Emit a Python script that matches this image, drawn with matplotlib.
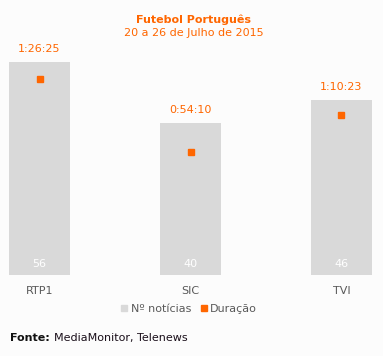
import matplotlib
matplotlib.use("Agg")
import matplotlib.pyplot as plt
from matplotlib.lines import Line2D

# data
canais = ["RTP1", "SIC", "TVI"]
noticias = [56, 40, 46]
duracao = ["1:26:25", "0:54:10", "1:10:23"]

def to_sec(s):
    h, m, x = s.split(":")
    return int(h) * 3600 + int(m) * 60 + int(x)

dur_sec = [to_sec(d) for d in duracao]

orange = "#FF6600"
grey = "#D9D9D9"
bg = "#FCFCFC"
txt = "#595959"
fs = 8

plt.rcParams["font.family"] = "DejaVu Sans"

W, H = 383, 356
fig = plt.figure(figsize=(W / 100, H / 100), dpi=100, facecolor=bg)

# axes: bar region from x=9..372 px, y=62..275 px (from top)
ax = fig.add_axes([9 / W, 1 - 275 / H, (372 - 9) / W, (275 - 62) / H])
ax.set_facecolor("none")
x = list(range(len(canais)))
bw = 0.404
ax.bar(x, noticias, width=bw, color=grey, zorder=1)
ax.set_xlim(-bw / 2, 2 + bw / 2)
ax.set_ylim(0, 56)
for s in ax.spines.values():
    s.set_visible(False)
ax.set_yticks([])
ax.set_xticks(x)
ax.set_xticklabels(canais, color=txt, fontsize=fs)
ax.tick_params(axis="x", length=0, pad=8)

for i, v in enumerate(noticias):
    ax.text(i, 1.6, str(v), ha="center", va="bottom", color="white", fontsize=fs)
    ax.annotate(duracao[i], (i, v), xytext=(0, 6), textcoords="offset points",
                ha="center", va="bottom", color=orange, fontsize=fs)

ax2 = ax.twinx()
ax2.set_ylim(0, 5635)
ax2.plot(x, dur_sec, ls="none", marker="s", ms=5, color=orange, zorder=3)
ax2.set_axis_off()

fig.text(194 / W, 1 - 20 / H, "Futebol Português", ha="center", va="center",
         color=orange, fontsize=fs, fontweight="bold")
fig.text(194 / W, 1 - 33 / H, "20 a 26 de Julho de 2015", ha="center", va="center",
         color=orange, fontsize=fs)

handles = [Line2D([], [], ls="none", marker="s", ms=4, color=grey),
           Line2D([], [], ls="none", marker="s", ms=4, color=orange)]
leg = fig.legend(handles, ["Nº notícias", "Duração"], loc="center",
                 bbox_to_anchor=(189 / W, 1 - 309 / H), ncol=2, frameon=False,
                 fontsize=fs, handlelength=0.6, handletextpad=0.3, columnspacing=0.8)
for t in leg.get_texts():
    t.set_color(txt)

fig.text(10 / W, 1 - 338 / H, "Fonte:", ha="left", va="center", color="#111111",
         fontsize=fs, fontweight="bold")
fig.text(54 / W, 1 - 338 / H, "MediaMonitor, Telenews", ha="left", va="center",
         color="#1a0f1a", fontsize=fs)

fig.savefig("out.png", dpi=100, facecolor=bg)
